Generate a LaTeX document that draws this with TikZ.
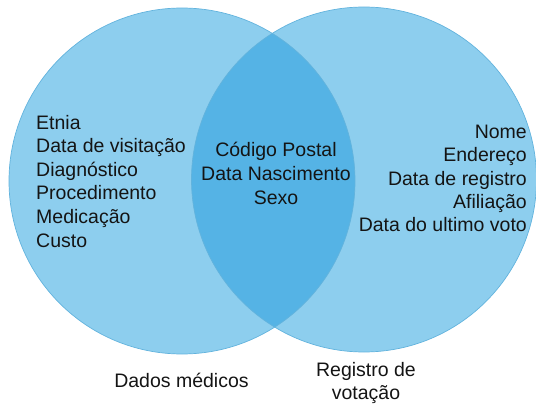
\documentclass[tikz,border=0pt]{standalone}
\usepackage{fontspec}
\setmainfont{Liberation Sans}
\definecolor{lightc}{HTML}{8DCEEE}
\definecolor{lensc}{HTML}{55B3E5}
\definecolor{edgec}{HTML}{62B3DD}
\definecolor{txtc}{HTML}{141414}
\begin{document}
\begin{tikzpicture}[x=1pt,y=-1pt,
  txt/.style={font=\fontsize{19.5}{23}\selectfont, inner sep=0pt, text=txtc}]
\useasboundingbox (0,0) rectangle (536,404);
\coordinate (L) at (182,181);
\coordinate (R) at (364,179.5);
\fill[lightc] (L) circle (173pt);
\fill[lightc] (R) circle (172.5pt);
\begin{scope}
  \clip (L) circle (173pt);
  \fill[lensc] (R) circle (172.5pt);
\end{scope}
\draw[edgec, line width=0.7pt] (L) circle (173pt);
\draw[edgec, line width=0.7pt] (R) circle (172.5pt);
\foreach \t [count=\i] in {Etnia, Data de visitação, Diagnóstico, Procedimento, Medicação, Custo}
  \node[txt, anchor=base west] (m\i) at (36,{129+23.6*(\i-1)}) {\t};
\foreach \t [count=\i] in {Código Postal, Data Nascimento, Sexo}
  \node[txt, anchor=base] (c\i) at (276,{157+23.5*(\i-1)}) {\t};
\foreach \t [count=\i] in {Nome, Endereço, Data de registro, Afiliação, Data do ultimo voto}
  \node[txt, anchor=base east] (v\i) at (527,{138.3+23.4*(\i-1)}) {\t};
\node[txt, anchor=base] (dm) at (181.5,387.7) {Dados médicos};
\node[txt, anchor=base] (rv1) at (366,376) {Registro de};
\node[txt, anchor=base] (rv2) at (366,399.5) {votação};
\end{tikzpicture}
\end{document}
